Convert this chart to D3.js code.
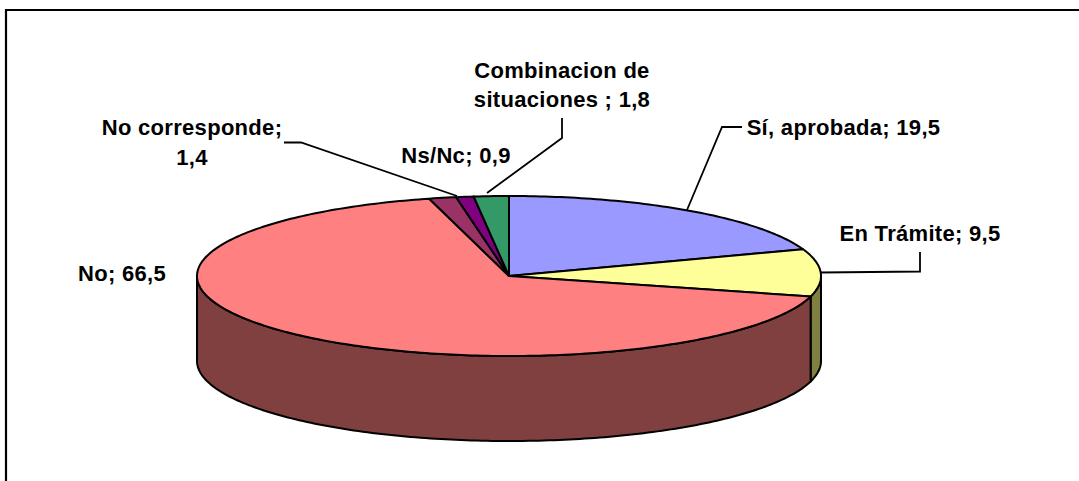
<!DOCTYPE html>
<html><head><meta charset="utf-8">
<script src="https://cdn.jsdelivr.net/npm/d3@7/dist/d3.min.js"></script>
<style>html,body{margin:0;padding:0;background:#fff;overflow:hidden}svg{display:block}
text{font-family:"Liberation Sans",Arial,sans-serif;font-weight:700;font-size:22px;letter-spacing:.3px;fill:#000;text-anchor:middle}</style>
</head><body><svg id="c" width="1079" height="481"></svg>
<script>
const categories = ["Sí, aprobada","En Trámite","No","No corresponde","Ns/Nc","Combinacion de situaciones"];
const values = [19.5,9.5,66.5,1.4,0.9,1.8];
const topColors = ["#9999FF","#FFFF99","#FF8080","#993366","#800080","#339966"];
const sideColors = ["#4D4D80","#808040","#804040","#4D1A33","#400040","#1A4D33"];
const labelLines = [["Sí, aprobada; 19,5"],["En Trámite; 9,5"],["No; 66,5"],["No corresponde;","1,4"],["Ns/Nc; 0,9"],["Combinacion de","situaciones ; 1,8"]];
const labelPos = [[843.5,135],[920,241],[122,281],[192,135],[456,163],[562,77.5]];
const leaders = [[[742,127],[722,127],[687,210]],[[920,252],[920,271.5],[821,272.5]],null,[[284,142.5],[301,142.5],[457,196]],null,[[562,118],[562,138],[487,193]]];

const W=1079,H=481,cx=509,cy=276,rx=312,ry=80,depth=85;
const svg=d3.select("#c");
svg.append("path").attr("d",`M6 ${H+5}V10H${W+5}`).attr("fill","none").attr("stroke","#000").attr("stroke-width",2.2);

const xS=d3.scaleLinear().domain([-1,1]).range([cx-rx,cx+rx]);
const yS=d3.scaleLinear().domain([-1,1]).range([cy-ry,cy+ry]);
const pt=(a,dz=0)=>[xS(Math.sin(a)),yS(-Math.cos(a))+dz];
const line=d3.line();
const arcs=d3.pie().sort(null).value(d=>d)(values);
const samples=(a0,a1)=>{const n=Math.max(2,Math.ceil(Math.abs(a1-a0)*60));return d3.range(n+1).map(i=>a0+(a1-a0)*i/n)};

const lo=Math.PI/2, hi=Math.PI*1.5;
arcs.forEach((d,i)=>{
  const a0=Math.max(d.startAngle,lo),a1=Math.min(d.endAngle,hi);
  if(a1<=a0)return;
  const s=samples(a0,a1);
  const p=[...s.map(a=>pt(a,0)),...s.slice().reverse().map(a=>pt(a,depth))];
  svg.append("path").attr("d",line(p)+"Z").attr("fill",sideColors[i]).attr("stroke","#000").attr("stroke-width",2).attr("stroke-linejoin","round");
});
arcs.forEach((d,i)=>{
  const p=[[cx,cy],...samples(d.startAngle,d.endAngle).map(a=>pt(a))];
  svg.append("path").attr("d",line(p)+"Z").attr("fill",topColors[i]).attr("stroke","#000").attr("stroke-width",2).attr("stroke-linejoin","round");
});
leaders.forEach(l=>{if(l)svg.append("path").attr("d",line(l)).attr("fill","none").attr("stroke","#000").attr("stroke-width",1.8)});
labelLines.forEach((ls,i)=>{
  const t=svg.append("text").attr("x",labelPos[i][0]).attr("y",labelPos[i][1]).attr("data-cat",categories[i]);
  ls.forEach((s,j)=>t.append("tspan").attr("x",labelPos[i][0]).attr("dy",j?29.5:0).text(s));
});
</script></body></html>
